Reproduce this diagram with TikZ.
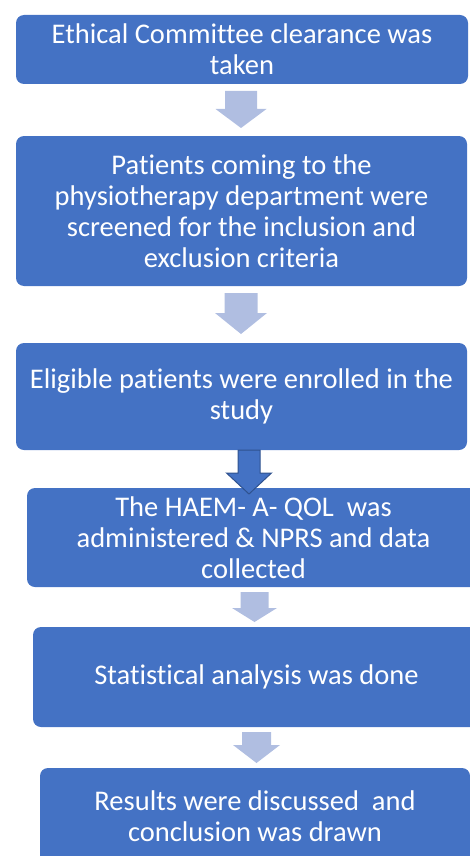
\documentclass[tikz,border=0pt]{standalone}
\usepackage{fontspec}
\setmainfont{Carlito}[Ligatures={NoCommon}]
\definecolor{boxblue}{HTML}{4472C4}
\definecolor{arrowlight}{HTML}{B0BEE1}
\definecolor{arrowedge}{HTML}{2F528F}
\tikzset{
  stepbox/.style={fill=boxblue, rounded corners=8pt, text=white, align=center,
    font=\fontsize{28.5}{31}\selectfont, inner sep=0pt},
  lightarrow/.style={fill=arrowlight},
  darkarrow/.style={fill=boxblue, draw=arrowedge, line width=1pt, line join=miter},
}
% block arrow pointing down: centre x, top, half shaft width, head base, half head width, tip
\newcommand\downblock[7]{%
  \path[#7] (#1-#3,#2) -- (#1+#3,#2) -- (#1+#3,#4) -- (#1+#5,#4) -- (#1,#6)
    -- (#1-#5,#4) -- (#1-#3,#4) -- cycle;}
\begin{document}
\begin{tikzpicture}[x=1pt,y=-1pt]
\useasboundingbox (0,0) rectangle (470,856);
\clip (0,0) rectangle (470,856);

\node[stepbox, minimum width=452pt, minimum height=69pt] (b1) at (242,49.5)
  {Ethical Committee clearance was\\taken};
\node[stepbox, minimum width=451pt, minimum height=150pt] (b2) at (241.5,211)
  {Patients coming to the\\physiotherapy department were\\screened for the inclusion and\\exclusion criteria};
\node[stepbox, minimum width=451pt, minimum height=107pt] (b3) at (241.5,396.5)
  {Eligible patients were enrolled in the\\study};
\node[stepbox, minimum width=453pt, minimum height=99pt] (b4) at (253.5,537.5)
  {The HAEM- A- QOL\ \ was\\administered \& NPRS and data\\collected};
\node[stepbox, minimum width=447pt, minimum height=100pt] (b5) at (256.5,677)
  {Statistical analysis was done};
\node[stepbox, minimum width=430pt, minimum height=96pt] (b6) at (255,816)
  {Results were discussed\ \ and\\conclusion was drawn};

\downblock{241}{91}{16}{109}{25.5}{128}{lightarrow}
\downblock{241}{293}{16.5}{313}{26}{334}{lightarrow}
\downblock{249}{450}{11}{473}{22.5}{494}{darkarrow}
\downblock{254.5}{592}{14}{608}{22.5}{622}{lightarrow}
\downblock{256.5}{732}{14.5}{745}{23.5}{763}{lightarrow}
\end{tikzpicture}
\end{document}
